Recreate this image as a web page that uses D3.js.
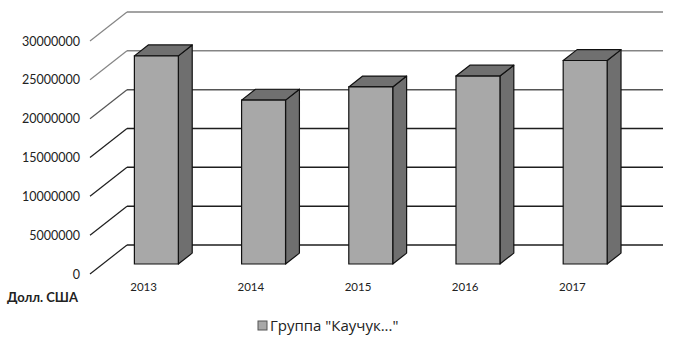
<!DOCTYPE html>
<html>
<head>
<meta charset="utf-8">
<script src="https://cdn.jsdelivr.net/npm/d3@7"></script>
<style>
body { margin: 0; background: #fff; }
svg { display: block; font-family: Lato, "Open Sans", sans-serif; }
</style>
</head>
<body>
<svg id="chart" width="678" height="338"></svg>
<script>
// data
var years = ["2013", "2014", "2015", "2016", "2017"];
var values = [26800000, 21100000, 22800000, 24200000, 26200000];
var yTicks = [0, 5000000, 10000000, 15000000, 20000000, 25000000, 30000000];
var seriesName = "Группа \"Каучук...\"";
var unitLabel = "Долл. США";

var svg = d3.select("#chart");

//depth of the 3d box, in px
var depthX = 37, depthY = 29;

//front plane scales
var x = d3.scaleBand()
	.domain(years)
	.range([90, 626])
	.paddingInner(0.59)
	.paddingOuter(0.295);

var y = d3.scaleLinear()
	.domain([0, 30000000])
	.range([274, 41]);

//move a point back into the box, d = 0 front, 1 back wall
function proj(px, py, d){
	return [px + d * depthX, py - d * depthY];
}

//gridline colour, scan makes the upper ones lighter
var gridColor = d3.scaleThreshold()
	.domain([17500000, 22500000])
	.range(["#1e1e1e", "#555", "#858585"]);

var grid = svg.append("g");

//side wall diagonals
grid.selectAll("line.diag")
	.data(yTicks)
	.enter()
	.append("line")
	.attr("class", "diag")
	.attr("x1", 90)
	.attr("y1", function(d){ return y(d); })
	.attr("x2", function(d){ return proj(90, y(d), 1)[0]; })
	.attr("y2", function(d){ return proj(90, y(d), 1)[1]; })
	.attr("stroke", function(d){ return gridColor(d); })
	.attr("stroke-width", 1.2);

//back wall lines
grid.selectAll("line.back")
	.data(yTicks)
	.enter()
	.append("line")
	.attr("class", "back")
	.attr("x1", function(d){ return proj(90, y(d), 1)[0]; })
	.attr("y1", function(d){ return proj(90, y(d), 1)[1]; })
	.attr("x2", function(d){ return proj(626, y(d), 1)[0]; })
	.attr("y2", function(d){ return proj(626, y(d), 1)[1]; })
	.attr("stroke", function(d){ return gridColor(d); })
	.attr("stroke-width", 1.5);

//bars sit between these depths
var dFront = 0.345, dBack = 0.72;

var bars = svg.append("g")
	.selectAll("g")
	.data(years.map(function(yr, i){ return {year: yr, value: values[i]}; }))
	.enter()
	.append("g");

function barCorners(d){
	var x0 = x(d.year), x1 = x(d.year) + x.bandwidth();
	return {
		fl: proj(x0, y(d.value), dFront),
		fr: proj(x1, y(d.value), dFront),
		br: proj(x1, y(d.value), dBack),
		bl: proj(x0, y(d.value), dBack),
		frb: proj(x1, y(0), dFront),
		brb: proj(x1, y(0), dBack),
		flb: proj(x0, y(0), dFront)
	};
}

//right side
bars.append("polygon")
	.attr("points", function(d){
		var c = barCorners(d);
		return [c.fr, c.br, c.brb, c.frb].join(" ");
	})
	.attr("fill", "#6f6f6f")
	.attr("stroke", "#111")
	.attr("stroke-width", 1.2)
	.attr("stroke-linejoin", "round");

//top
bars.append("polygon")
	.attr("points", function(d){
		var c = barCorners(d);
		return [c.fl, c.fr, c.br, c.bl].join(" ");
	})
	.attr("fill", "#707070")
	.attr("stroke", "#111")
	.attr("stroke-width", 1.2)
	.attr("stroke-linejoin", "round");

//front
bars.append("polygon")
	.attr("points", function(d){
		var c = barCorners(d);
		return [c.fl, c.fr, c.frb, c.flb].join(" ");
	})
	.attr("fill", "#a8a8a8")
	.attr("stroke", "#111")
	.attr("stroke-width", 1.2);

//value axis
var yAxis = d3.axisLeft(y)
	.tickValues(yTicks)
	.tickSize(0)
	.tickPadding(10)
	.tickFormat(d3.format("d"));

svg.append("g")
	.attr("transform", "translate(90, 0)")
	.call(yAxis)
	.call(function(g){ g.select(".domain").remove(); })
	.selectAll("text")
	.attr("font-family", "Lato, sans-serif")
	.attr("font-size", 12.5)
	.attr("fill", "#222");

//category axis
var xAxis = d3.axisBottom(x).tickSize(0).tickPadding(0);

svg.append("g")
	.attr("transform", "translate(0, 283)")
	.call(xAxis)
	.call(function(g){ g.select(".domain").remove(); })
	.selectAll("text")
	.attr("font-family", "Lato, sans-serif")
	.attr("font-size", 11.5)
	.attr("fill", "#222");

svg.append("text")
	.attr("x", 7)
	.attr("y", 302)
	.attr("font-size", 13)
	.attr("font-weight", "bold")
	.attr("fill", "#222")
	.text(unitLabel);

//legend
var legend = svg.append("g");

legend.append("rect")
	.attr("x", 258)
	.attr("y", 321)
	.attr("width", 9)
	.attr("height", 9)
	.attr("fill", "#a8a8a8")
	.attr("stroke", "#555");

legend.append("text")
	.attr("x", 270)
	.attr("y", 331)
	.attr("font-family", "'Open Sans', sans-serif")
	.attr("font-size", 15)
	.attr("fill", "#222")
	.text(seriesName);
</script>
</body>
</html>
